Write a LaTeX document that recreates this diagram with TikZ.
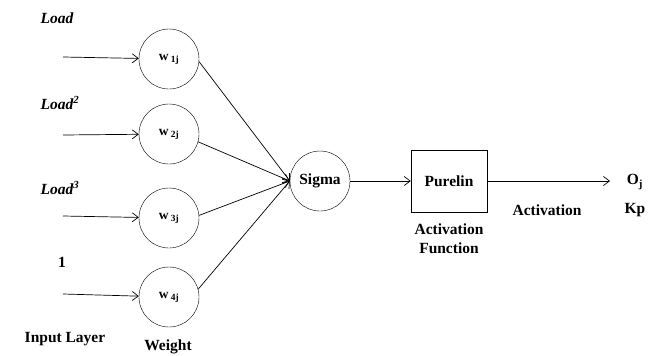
\documentclass[tikz,border=0pt]{standalone}
\usepackage{fontspec}
\setmainfont{Liberation Serif}
\usetikzlibrary{arrows.meta}
\begin{document}
\begin{tikzpicture}[x=1pt,y=-1pt,
		every node/.style={font=\fontsize{15.5}{19}\selectfont\bfseries},
		weight/.style={draw,circle,minimum size=60pt,inner sep=0pt,font=\fontsize{13.5}{15}\selectfont\bfseries},
		func/.style={draw,rectangle,minimum width=76pt,minimum height=62pt,inner sep=0pt},
		link/.style={line width=0.7,-{Straight Barb[length=6pt,width=9pt]}}]
		\useasboundingbox (0,0) rectangle (664,356);
		\node[weight] (W1) at (169,59) {w\,\textsubscript{1j}};
		\node[weight] (W2) at (169,134) {w\,\textsubscript{2j}};
		\node[weight] (W3) at (169,218) {w\,\textsubscript{3j}};
		\node[weight] (W4) at (169,297) {w\,\textsubscript{4j}};
		\node[weight,font=\fontsize{15.5}{19}\selectfont\bfseries] (S) at (320,181) {Sigma};
		\node[func] (P) at (449,181) {Purelin};
		\coordinate (I1) at (63,57);
		\coordinate (I2) at (63,135);
		\coordinate (I3) at (63,216);
		\coordinate (I4) at (63,294);
		\coordinate (O) at (610,181);
		\draw [link] (I1) to (W1);
		\draw [link] (I2) to (W2);
		\draw [link] (I3) to (W3);
		\draw [link] (I4) to (W4);
		\draw [link] (W1.-5) to (S.west);
		\draw [link] (W2.-15) to (S.west);
		\draw [link] (W3.5) to (S.west);
		\draw [link] (W4.15) to (S.west);
		\draw [link] (S) to (P);
		\draw [link] (P) to (O);
		\node (L1) at (57,18) {\itshape Load};
		\node (L2) at (60,103) {\itshape Load\textsuperscript{2}};
		\node (L3) at (60,188) {\itshape Load\textsuperscript{3}};
		\node (L4) at (62,262) {1};
		\node (IL) at (65,339) {Input Layer};
		\node (WL) at (168,347) {Weight};
		\node (AF) at (449,239) [align=center] {Activation\\Function};
		\node (AL) at (547,210) {Activation};
		\node (OJ) at (635,182) {O\textsubscript{j}};
		\node (KP) at (635,210) {Kp};
	\end{tikzpicture}
\end{document}
